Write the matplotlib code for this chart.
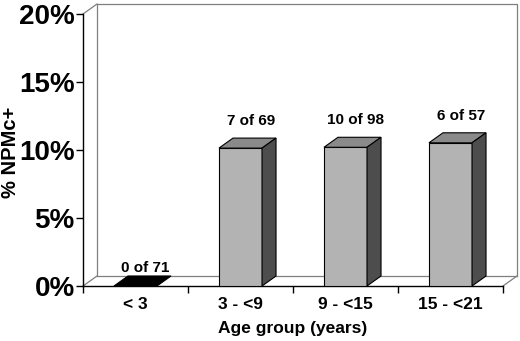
import matplotlib
matplotlib.use("Agg")
import matplotlib.pyplot as plt
from matplotlib.patches import Polygon

categories = ["< 3", "3 - <9", "9 - <15", "15 - <21"]
values = [0.0, 10.14, 10.20, 10.53]   # % NPMc+
labels = ["0 of 71", "7 of 69", "10 of 98", "6 of 57"]
yticks = [0, 5, 10, 15, 20]

plt.rcParams['font.family'] = ['Liberation Sans', 'DejaVu Sans']
plt.rcParams['font.weight'] = 'bold'

fig = plt.figure(figsize=(5.2, 3.41), dpi=100)
ax = fig.add_axes([83/520, 55/341, 420/520, 272/341])
n = len(categories)
ax.set_xlim(0, n)
ax.set_ylim(0, 20)

# depth offsets in data units (14 px right, 10 px up)
DX = 14 / 105.0
DY = 10 / 13.6
wall = '#7f7f7f'

# back wall, floor and side wall outlines
ax.plot([DX, DX, n + DX, n + DX], [DY, 20 + DY, 20 + DY, DY], color=wall, lw=0.9, clip_on=False, zorder=1)
ax.plot([0, DX], [20, 20 + DY], color=wall, lw=0.9, clip_on=False, zorder=1)
ax.plot([DX, n + DX], [DY, DY], color=wall, lw=0.9, clip_on=False, zorder=1)
ax.plot([0, DX], [0, DY], color=wall, lw=0.9, clip_on=False, zorder=1)
ax.plot([n, n + DX], [0, DY], color=wall, lw=0.9, clip_on=False, zorder=1)

width = 0.41
xs = [i + 0.5 for i in range(n)]
ax.bar(xs, values, width=width, color='#b3b3b3', edgecolor='black', linewidth=0.8, zorder=3)
for x, v in zip(xs, values):
    l, r = x - width / 2, x + width / 2
    top_col = 'black' if v == 0 else '#8a8a8a'
    ax.add_patch(Polygon([(l, v), (r, v), (r + DX, v + DY), (l + DX, v + DY)], closed=True,
                         facecolor=top_col, edgecolor='black', lw=0.8, zorder=4, clip_on=False))
    if v > 0:
        ax.add_patch(Polygon([(r, 0), (r, v), (r + DX, v + DY), (r + DX, DY)], closed=True,
                             facecolor='#4d4d4d', edgecolor='black', lw=0.8, zorder=4, clip_on=False))

for x, v, t in zip(xs, values, labels):
    ly = v + 2.0 if v > 0 else v + 1.35
    ax.text(x + DX / 2 + 0.03, ly, t, ha='center', va='center', fontsize=11, fontweight='bold', zorder=5)

for s in ['top', 'right']:
    ax.spines[s].set_visible(False)
ax.spines['left'].set_linewidth(1.0)
ax.spines['bottom'].set_linewidth(1.0)

ax.set_yticks(yticks)
ax.set_yticklabels([f"{v}%" for v in yticks], fontsize=20, fontweight='bold')
ax.tick_params(axis='y', direction='out', length=5, width=1, pad=1)
ax.set_xticks(range(n + 1))
ax.set_xticklabels([])
ax.set_xticks(xs, minor=True)
ax.set_xticklabels(categories, minor=True, fontsize=12.5, fontweight='bold')
ax.tick_params(axis='x', which='major', direction='out', length=5, width=1)
ax.tick_params(axis='x', which='minor', length=0, pad=8)

ax.set_xlabel("Age group (years)", fontsize=12.5, fontweight='bold', va='center')
ax.xaxis.set_label_coords(0.5, (286 - 329) / 272.0)
ax.set_ylabel("% NPMc+", fontsize=14.5, fontweight='bold', va='center')
ax.yaxis.set_label_coords((10.5 - 83) / 420.0, (286 - 152) / 272.0)

fig.savefig("out.png", dpi=100)
